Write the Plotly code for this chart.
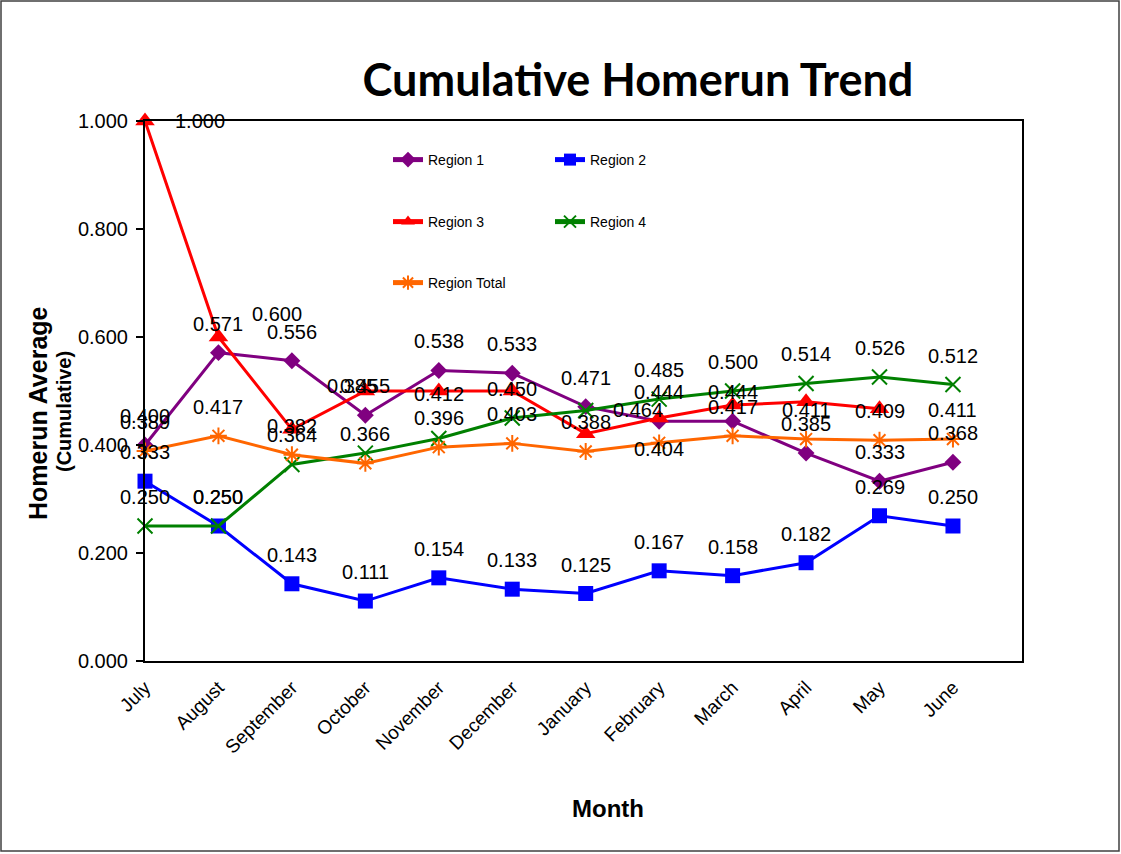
import plotly.graph_objects as go

months = ["July", "August", "September", "October", "November", "December",
          "January", "February", "March", "April", "May", "June"]
region1 = [0.400, 0.571, 0.556, 0.455, 0.538, 0.533, 0.471, 0.444, 0.444, 0.385, 0.333, 0.368]
region2 = [0.333, 0.250, 0.143, 0.111, 0.154, 0.133, 0.125, 0.167, 0.158, 0.182, 0.269, 0.250]
region3 = [1.000, 0.600, 0.429, 0.500, 0.500, 0.500, 0.421, 0.450, 0.474, 0.480, 0.467, None]
region4 = [0.250, 0.250, 0.364, 0.385, 0.412, 0.450, 0.464, 0.485, 0.500, 0.514, 0.526, 0.512]
region_total = [0.389, 0.417, 0.382, 0.366, 0.396, 0.403, 0.388, 0.404, 0.417, 0.411, 0.409, 0.411]

# number of leading points that carry a data label (Region 3 only labels its first two)
labelled_points = {"Region 1": 12, "Region 2": 12, "Region 3": 2, "Region 4": 12, "Region Total": 12}

FONT = "Liberation Sans, Arial, sans-serif"

series = [
    ("Region 1", region1, "#800080", dict(symbol="diamond", size=13), "legend"),
    ("Region 2", region2, "#0000FF", dict(symbol="square", size=15), "legend2"),
    ("Region 3", region3, "#FF0000", dict(symbol="triangle-up", size=17), "legend3"),
    ("Region 4", region4, "#008000", dict(symbol="x-thin-open", size=15, line=dict(width=2, color="#008000")), "legend4"),
    ("Region Total", region_total, "#FF6600", dict(symbol="asterisk-open", size=14, line=dict(width=2, color="#FF6600")), "legend5"),
]

fig = go.Figure()
for name, vals, color, mk, lg in series:
    mk = dict(mk)
    mk["color"] = color
    fig.add_trace(go.Scatter(
        x=months, y=vals, name=name, mode="lines+markers",
        line=dict(color=color, width=3), marker=mk,
        cliponaxis=False, legend=lg, showlegend=True,
    ))

# label placement (style): default sits above the point; a few were moved in the original
default_shift = (0, 29)
moved = {
    ("Region 3", 0): (55, 0),
    ("Region 3", 1): (59, 23),
    ("Region 4", 3): (-13, 67),
    ("Region 4", 4): (0, 45),
    ("Region 4", 6): (52, 0),
    ("Region Total", 7): (0, -6),
}

annotations = []
for name, vals, color, mk, lg in series:
    for i, v in enumerate(vals[:labelled_points[name]]):
        if v is None:
            continue
        xs, ys = moved.get((name, i), default_shift)
        annotations.append(dict(
            x=months[i], y=v, xref="x", yref="y", text=f"{v:.3f}",
            showarrow=False, xshift=xs, yshift=ys,
            font=dict(family=FONT, size=20, color="#000000"),
        ))

# axis titles
annotations.append(dict(
    x=(38 - 145) / 877, y=(661 - 413) / 540, xref="paper", yref="paper",
    xanchor="center", yanchor="middle",
    text="<b>Homerun Average</b>", textangle=-90, showarrow=False,
    font=dict(family=FONT, size=25, color="#000000"),
))
annotations.append(dict(
    x=(64 - 145) / 877, y=(661 - 412) / 540, xref="paper", yref="paper",
    xanchor="center", yanchor="middle",
    text="<b>(Cumulative)</b>", textangle=-90, showarrow=False,
    font=dict(family=FONT, size=20, color="#000000"),
))
annotations.append(dict(
    x=(608 - 145) / 877, y=(661 - 808) / 540, xref="paper", yref="paper",
    xanchor="center", yanchor="middle",
    text="<b>Month</b>", showarrow=False,
    font=dict(family=FONT, size=24, color="#000000"),
))

legend_common = dict(xanchor="left", yanchor="middle", bgcolor="rgba(0,0,0,0)",
                     font=dict(family=FONT, size=14, color="#000000"),
                     itemsizing="constant", borderwidth=0, visible=True)

def lg(xpx, ypx):
    d = dict(legend_common)
    d["x"] = (xpx - 145) / 877
    d["y"] = (661 - ypx) / 540
    return d

fig.update_layout(
    width=1121, height=854,
    showlegend=True,
    margin=dict(l=145, r=99, t=121, b=193),
    paper_bgcolor="white", plot_bgcolor="white",
    title=dict(text="<b>Cumulative Homerun Trend</b>", x=638 / 1121, xanchor="center",
               y=1 - 80 / 854, yanchor="middle",
               font=dict(family="Lato, Open Sans, sans-serif", size=45, color="#000000")),
    xaxis=dict(type="category", categoryorder="array", categoryarray=months,
               range=[0, 11.94], showline=True, linecolor="#000000", linewidth=2,
               mirror=True, ticks="", showgrid=False, zeroline=False, tickangle=-45,
               ticklabelstandoff=6,
               tickfont=dict(family=FONT, size=19, color="#000000")),
    yaxis=dict(range=[0, 1], dtick=0.2, tick0=0, tickformat=".3f",
               showline=True, linecolor="#000000", linewidth=2, mirror=True,
               ticks="outside", ticklen=7, tickwidth=1.5, tickcolor="#000000",
               showgrid=False, zeroline=False, ticklabelstandoff=4,
               tickfont=dict(family=FONT, size=20, color="#000000")),
    legend=lg(388, 160), legend2=lg(550, 160), legend3=lg(388, 222),
    legend4=lg(550, 222), legend5=lg(388, 283),
    annotations=annotations,
    shapes=[dict(type="rect", xref="paper", yref="paper",
                 x0=(1 - 145) / 877, x1=(1119 - 145) / 877,
                 y0=(661 - 851) / 540, y1=(661 - 1) / 540,
                 line=dict(color="#404040", width=1.5), fillcolor="rgba(0,0,0,0)")],
)

fig.write_html("out.html", config={"displayModeBar": False},
               post_script="document.body.style.margin='0';document.body.style.overflow='hidden';")
